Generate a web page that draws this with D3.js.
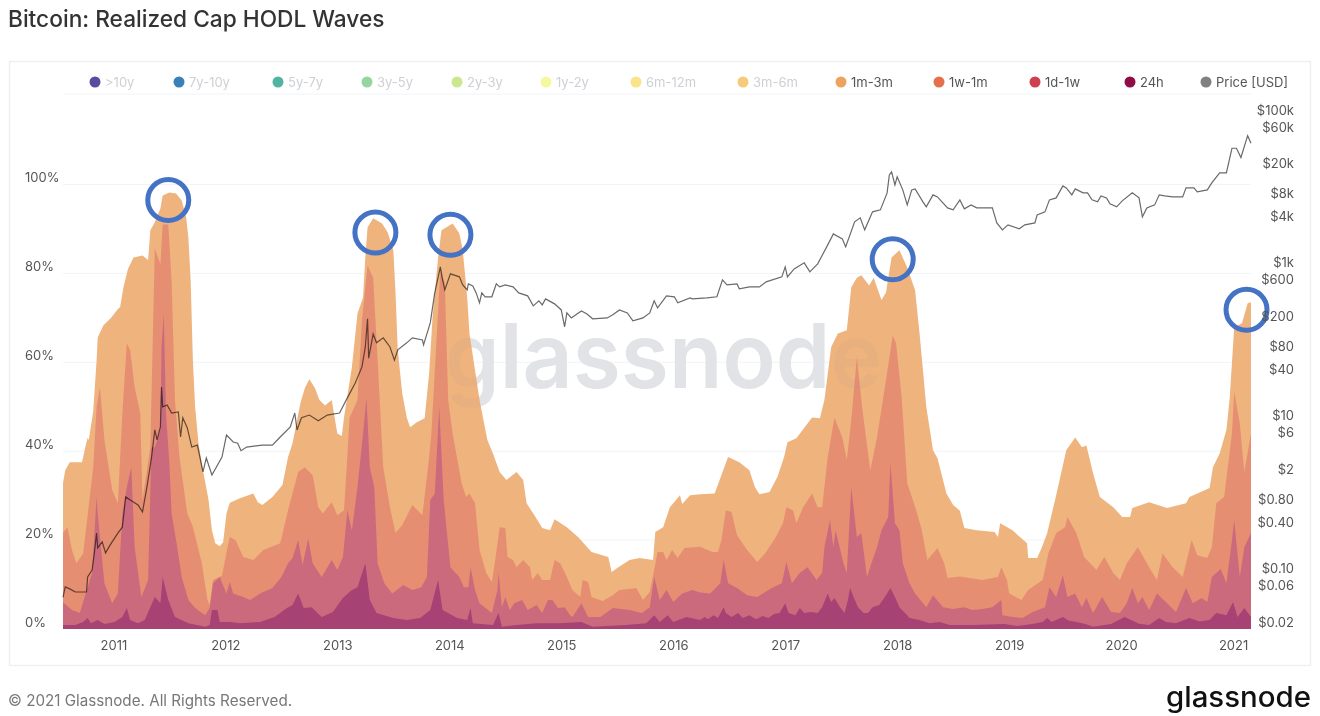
<!DOCTYPE html>
<html><head><meta charset="utf-8">
<script src="https://cdn.jsdelivr.net/npm/d3@7"></script>
<style>
html,body{margin:0;padding:0;background:#fff;overflow:hidden}
svg{display:block;font-family:Inter,"Noto Sans",sans-serif}
</style></head><body><svg id="c" width="1320" height="716"></svg>
<script>
const title = "Bitcoin: Realized Cap HODL Waves";
const footer = "© 2021 Glassnode. All Rights Reserved.";
const brand = "glassnode";
const legendNames = [">10y","7y-10y","5y-7y","3y-5y","2y-3y","1y-2y","6m-12m","3m-6m","1m-3m","1w-1m","1d-1w","24h","Price [USD]"];
const legendColors = ["#5b4a9f","#3a80b9","#52b3a3","#97d5a0","#cbe88f","#f6f8a0","#fbe389","#f7c97b","#eda35e","#e4704d","#ce3f4f","#8f0c47","#808080"];
const legendActive = ["1m-3m","1w-1m","1d-1w","24h","Price [USD]"];
const yearTicks = [2011,2012,2013,2014,2015,2016,2017,2018,2019,2020,2021];
const pctTicks = [0,20,40,60,80,100];
const priceTicks = [0.02,0.06,0.1,0.4,0.8,2,6,10,40,80,200,600,1000,4000,8000,20000,60000,100000];
const priceLabels = ["$0.02","$0.06","$0.10","$0.40","$0.80","$2","$6","$10","$40","$80","$200","$600","$1k","$4k","$8k","$20k","$60k","$100k"];
const highlightDates = [2011.49,2013.34,2014.01,2017.96,2021.12];
const highlightLevels = [96.5,89.2,88.7,83.2,71.8];

// cumulative share of realized cap, [decimal year, %]
const upTo1m3m = [[2010.55,32.8],[2010.57,35.7],[2010.61,37.5],[2010.72,37.5],[2010.75,41],[2010.77,43],[2010.78,42.5],[2010.82,49],[2010.85,60.4],[2010.86,65.6],[2010.91,68.3],[2010.98,70],[2011.04,72],[2011.06,72.4],[2011.09,76.9],[2011.13,81],[2011.18,83.6],[2011.26,84],[2011.31,83],[2011.33,89.7],[2011.37,91.5],[2011.42,94.6],[2011.44,97.5],[2011.50,98.2],[2011.56,98],[2011.61,96.4],[2011.65,92.6],[2011.67,88],[2011.69,78.4],[2011.71,60.4],[2011.73,50],[2011.76,41.8],[2011.80,35.7],[2011.85,29],[2011.88,22.2],[2011.91,19.3],[2011.95,18.6],[2011.98,19.5],[2012.01,26],[2012.04,28.4],[2012.13,29.4],[2012.25,30.5],[2012.29,28.5],[2012.33,27.9],[2012.42,29.7],[2012.51,32.4],[2012.56,38.7],[2012.60,41.8],[2012.67,50.8],[2012.71,54.2],[2012.75,56.2],[2012.80,54.2],[2012.84,51.5],[2012.89,50.3],[2012.95,51.5],[2012.97,48.5],[2013.00,44],[2013.04,43.4],[2013.06,47.6],[2013.13,58.9],[2013.18,71],[2013.23,74.6],[2013.25,83.6],[2013.27,90.3],[2013.32,92.4],[2013.40,91.2],[2013.45,89.2],[2013.50,85.2],[2013.52,75.5],[2013.54,62.7],[2013.58,53],[2013.62,47.6],[2013.65,45.4],[2013.71,46.5],[2013.78,47.4],[2013.82,57.5],[2013.85,70],[2013.90,83.6],[2013.93,89.7],[2014.03,91.2],[2014.09,89],[2014.12,85.2],[2014.16,74.6],[2014.18,66.5],[2014.27,51.5],[2014.34,42.5],[2014.39,39.5],[2014.45,35.3],[2014.51,33.5],[2014.60,35.3],[2014.66,33.5],[2014.69,28.3],[2014.76,25.6],[2014.83,22.7],[2014.90,22.2],[2014.94,24.7],[2015.05,22.9],[2015.15,20.7],[2015.27,17.3],[2015.42,16.2],[2015.45,12.8],[2015.50,13.7],[2015.61,15.5],[2015.70,16],[2015.82,15.5],[2015.84,21.8],[2015.91,22.9],[2015.97,27.4],[2016.06,30.1],[2016.08,28.1],[2016.15,30.1],[2016.24,30.3],[2016.37,30.5],[2016.43,34.6],[2016.49,38.7],[2016.59,37.5],[2016.68,35.7],[2016.73,31.9],[2016.77,30.3],[2016.86,30.8],[2016.93,34.2],[2016.99,38.7],[2017.02,42],[2017.10,42.9],[2017.24,47.6],[2017.31,47.4],[2017.35,51.5],[2017.41,63.4],[2017.47,66.5],[2017.55,67.2],[2017.59,76.9],[2017.64,79],[2017.68,79.6],[2017.75,77.3],[2017.79,79],[2017.86,74],[2017.90,75.7],[2017.95,83.6],[2018.02,85.2],[2018.09,81.3],[2018.16,76.2],[2018.20,66.5],[2018.26,50],[2018.32,40.2],[2018.36,38.4],[2018.44,30.5],[2018.50,27.9],[2018.56,26.6],[2018.60,22.7],[2018.71,22.2],[2018.87,21.8],[2018.90,20.7],[2018.92,23.8],[2019.03,22.2],[2019.16,19.3],[2019.17,16],[2019.25,16],[2019.29,18.2],[2019.34,21.6],[2019.42,30.1],[2019.51,40.2],[2019.59,43.1],[2019.65,40.9],[2019.69,41.3],[2019.75,35],[2019.81,29.7],[2019.93,27.4],[2020.01,25.2],[2020.08,25.2],[2020.10,27.2],[2020.25,28.5],[2020.41,27.2],[2020.58,28.3],[2020.61,29.7],[2020.79,31.7],[2020.82,36.4],[2020.88,39.5],[2020.94,44.7],[2020.97,52],[2021.01,67.9],[2021.08,68.8],[2021.13,73.3],[2021.16,73.5]];
const upTo1w1m = [[2010.55,21.6],[2010.59,22.9],[2010.63,17.8],[2010.67,14.8],[2010.73,17],[2010.82,36.4],[2010.85,50],[2010.88,54.4],[2010.92,42.5],[2010.99,31.2],[2011.04,28.3],[2011.08,48.5],[2011.12,64.3],[2011.15,62.7],[2011.19,54.4],[2011.24,48.5],[2011.26,29],[2011.33,40.9],[2011.37,85.6],[2011.42,82],[2011.44,91],[2011.49,91],[2011.52,78.4],[2011.55,51.5],[2011.59,38.7],[2011.66,26],[2011.71,23],[2011.79,14.8],[2011.84,6.5],[2011.86,5.4],[2011.89,11],[2011.97,12],[2012.02,18.4],[2012.04,20.7],[2012.09,20],[2012.16,16.2],[2012.25,15.5],[2012.34,17.8],[2012.49,19.3],[2012.56,26.7],[2012.65,35.3],[2012.71,36.4],[2012.78,34.6],[2012.83,27.4],[2012.87,26],[2012.95,28.5],[2013.00,25.6],[2013.06,26.7],[2013.11,47.6],[2013.18,51.5],[2013.22,69.4],[2013.27,81.8],[2013.32,79],[2013.36,60.4],[2013.41,36.4],[2013.47,27.4],[2013.52,21.6],[2013.58,23.4],[2013.67,27.9],[2013.76,25.6],[2013.82,38.7],[2013.84,44],[2013.92,80.7],[2013.96,77.8],[2013.99,51.5],[2014.03,44],[2014.11,32.8],[2014.15,29.7],[2014.18,30.5],[2014.23,28.3],[2014.27,17.8],[2014.33,12.6],[2014.38,10.6],[2014.41,15.5],[2014.45,22.9],[2014.50,22.7],[2014.52,16.2],[2014.57,15.5],[2014.60,13.9],[2014.66,15.5],[2014.72,13.9],[2014.74,11],[2014.79,12.6],[2014.83,11],[2014.90,11],[2014.94,15.5],[2014.99,14.8],[2015.05,11.7],[2015.10,8.8],[2015.17,7.2],[2015.19,11],[2015.24,10.6],[2015.27,7.2],[2015.37,6.3],[2015.46,7.6],[2015.52,8.8],[2015.67,9.2],[2015.73,6.5],[2015.79,8.3],[2015.83,13.3],[2015.86,17.3],[2015.91,17.3],[2015.94,15.5],[2015.99,17.8],[2016.04,16],[2016.10,18.2],[2016.18,18.4],[2016.24,18.5],[2016.35,17.3],[2016.40,17.3],[2016.43,20],[2016.47,26.7],[2016.52,26.3],[2016.57,21.1],[2016.66,17.8],[2016.75,15.1],[2016.82,17],[2016.91,20.4],[2016.98,23.8],[2017.01,27.4],[2017.07,26.7],[2017.10,23.8],[2017.16,27.4],[2017.24,30.5],[2017.29,27.4],[2017.33,27.4],[2017.38,38.7],[2017.44,47.6],[2017.51,43.1],[2017.55,38],[2017.59,47],[2017.64,61.1],[2017.69,49.2],[2017.76,35.7],[2017.82,43.1],[2017.90,56],[2017.96,66],[2017.99,64.3],[2018.04,52.1],[2018.09,32.8],[2018.17,26.7],[2018.22,22.2],[2018.27,15.5],[2018.36,18.2],[2018.42,14.8],[2018.45,11.5],[2018.56,11.8],[2018.76,11],[2018.90,11.7],[2018.93,13.9],[2018.98,11],[2019.00,8],[2019.11,6.5],[2019.17,8.8],[2019.30,11],[2019.35,17],[2019.42,21.6],[2019.50,22.9],[2019.52,25.2],[2019.60,21.6],[2019.67,16.2],[2019.78,13.3],[2019.85,16.2],[2019.93,12.6],[2019.99,11],[2020.05,14.8],[2020.15,18.4],[2020.25,13.9],[2020.32,11],[2020.37,17],[2020.46,13.9],[2020.55,11.7],[2020.63,20],[2020.68,16.6],[2020.77,16],[2020.81,18.4],[2020.85,28.3],[2020.92,29.7],[2020.99,44],[2021.01,53.3],[2021.06,46.3],[2021.10,35.3],[2021.16,44]];
const upTo1d1w = [[2010.55,6],[2010.63,4.3],[2010.70,3.6],[2010.77,9.4],[2010.81,12.6],[2010.85,29.7],[2010.86,26],[2010.92,10.3],[2010.99,5.8],[2011.04,8],[2011.08,26],[2011.12,31.9],[2011.16,36.4],[2011.19,18.4],[2011.25,7.2],[2011.31,11],[2011.34,40.9],[2011.37,40.9],[2011.42,44.7],[2011.43,63.4],[2011.45,71],[2011.47,48.5],[2011.50,37.3],[2011.52,26],[2011.57,18.4],[2011.61,11.7],[2011.67,6.5],[2011.73,4.7],[2011.82,3.1],[2011.86,4.7],[2011.89,10.3],[2011.95,11.7],[2012.01,8],[2012.04,10.6],[2012.07,8],[2012.16,7.2],[2012.22,6.5],[2012.31,8],[2012.42,9.2],[2012.50,11.7],[2012.56,14.8],[2012.60,16],[2012.65,20],[2012.69,14.4],[2012.74,20.4],[2012.78,14.8],[2012.86,11.7],[2012.95,15.5],[2013.00,13.3],[2013.05,16.2],[2013.09,26.7],[2013.13,22.2],[2013.18,31.9],[2013.23,44],[2013.26,52.1],[2013.29,36.4],[2013.33,31.9],[2013.36,14.8],[2013.42,10.3],[2013.49,8],[2013.59,9.9],[2013.67,8.8],[2013.75,9.4],[2013.80,11.7],[2013.83,29],[2013.87,30.5],[2013.91,49.9],[2013.95,29],[2014.01,13.9],[2014.09,11.7],[2014.13,9.4],[2014.17,9.4],[2014.19,13.9],[2014.23,8.8],[2014.27,5.8],[2014.38,3.6],[2014.43,8.8],[2014.44,12.6],[2014.47,4.9],[2014.50,7.2],[2014.54,4.3],[2014.58,5.8],[2014.65,6.5],[2014.70,4.3],[2014.78,5.4],[2014.83,3.6],[2014.88,6.5],[2014.92,6.5],[2014.97,4.7],[2015.03,4.9],[2015.08,3.1],[2015.10,2.7],[2015.18,5.8],[2015.24,2.7],[2015.35,2.7],[2015.46,4.7],[2015.61,4.3],[2015.72,3.6],[2015.79,4.9],[2015.83,11.7],[2015.88,6.5],[2015.94,8.8],[2016.00,6.1],[2016.08,8],[2016.17,8.8],[2016.24,8.2],[2016.33,8],[2016.42,10.3],[2016.45,15.5],[2016.49,10.3],[2016.57,9.2],[2016.66,7.6],[2016.75,7.2],[2016.88,9.2],[2016.97,10.3],[2017.01,15.1],[2017.06,10.3],[2017.13,12.6],[2017.20,13.9],[2017.28,11],[2017.33,12.6],[2017.35,18.4],[2017.40,24.5],[2017.43,18.4],[2017.45,22.2],[2017.52,14.8],[2017.55,12.6],[2017.59,31.9],[2017.64,20.7],[2017.68,21.6],[2017.73,11.7],[2017.77,14.8],[2017.82,18.4],[2017.86,22.2],[2017.92,25.2],[2017.94,37.3],[2017.98,23.8],[2018.02,22.2],[2018.05,14.8],[2018.11,10.3],[2018.16,8],[2018.26,4.9],[2018.32,7.6],[2018.41,4.9],[2018.50,4.5],[2018.60,4.9],[2018.67,4.3],[2018.76,4.5],[2018.85,4.9],[2018.93,6.5],[2018.94,3.1],[2019.03,2.7],[2019.12,2.5],[2019.21,3.8],[2019.32,4.9],[2019.36,9.4],[2019.42,7.2],[2019.48,12.1],[2019.52,7.2],[2019.59,8],[2019.65,4.9],[2019.69,7],[2019.75,3.6],[2019.83,7.2],[2019.91,3.8],[2019.99,3.6],[2020.05,5.8],[2020.10,9.2],[2020.15,5.8],[2020.19,7.2],[2020.25,4.3],[2020.32,8],[2020.41,5.8],[2020.49,3.8],[2020.58,9.2],[2020.64,5.8],[2020.72,7],[2020.77,6.1],[2020.81,11.7],[2020.85,12.6],[2020.89,13.5],[2020.94,10.3],[2020.99,20],[2021.01,24.5],[2021.06,11.7],[2021.10,18.4],[2021.16,21.6]];
const upTo24h = [[2010.55,0.9],[2010.66,0.9],[2010.73,1.6],[2010.77,2.5],[2010.80,1.3],[2010.86,2],[2010.92,1.1],[2011.01,1.6],[2011.08,2.7],[2011.12,4.7],[2011.15,2],[2011.22,1.3],[2011.28,2],[2011.33,4.9],[2011.37,7.2],[2011.42,5.8],[2011.44,11.7],[2011.49,6.5],[2011.55,2.7],[2011.67,1.3],[2011.82,0.5],[2011.86,0.9],[2011.88,4.3],[2011.93,4.3],[2011.95,1.6],[2012.04,1.6],[2012.13,1.3],[2012.31,1.6],[2012.44,2.7],[2012.55,4.7],[2012.60,5.4],[2012.65,8],[2012.70,4.7],[2012.77,4.9],[2012.86,2.7],[2012.96,3.8],[2013.05,7],[2013.13,8.8],[2013.18,9.4],[2013.25,14.8],[2013.29,6.5],[2013.35,3.6],[2013.50,2.5],[2013.62,2],[2013.74,2.5],[2013.83,4.3],[2013.90,11],[2013.94,4.3],[2014.07,2.5],[2014.16,2],[2014.19,4.7],[2014.21,1.3],[2014.39,0.9],[2014.44,3.6],[2014.47,0.5],[2014.60,0.9],[2014.78,1.3],[2014.99,1.3],[2015.18,1.6],[2015.28,0.5],[2015.58,0.9],[2015.76,1.3],[2015.83,3.1],[2015.88,1.6],[2015.95,3.1],[2016.00,1.6],[2016.12,2.7],[2016.24,2],[2016.28,2.7],[2016.31,2.2],[2016.36,3.1],[2016.40,2.5],[2016.45,4.9],[2016.47,3.6],[2016.52,2.7],[2016.58,3.6],[2016.62,2.5],[2016.68,3.1],[2016.74,2.2],[2016.80,2.9],[2016.85,2.5],[2016.90,3.4],[2016.95,3.6],[2017.00,5.8],[2017.03,3.6],[2017.09,3.1],[2017.13,4.7],[2017.17,3.6],[2017.23,3.8],[2017.29,3.6],[2017.33,4.9],[2017.38,8],[2017.41,6],[2017.44,7],[2017.49,4.9],[2017.53,3.6],[2017.56,6.5],[2017.58,9.2],[2017.61,7.2],[2017.65,4.9],[2017.70,3.6],[2017.74,3.6],[2017.78,4.9],[2017.84,5.4],[2017.89,7.2],[2017.94,9.2],[2017.98,7.2],[2018.02,4.9],[2018.07,3.6],[2018.11,2.5],[2018.20,2],[2018.29,1.3],[2018.38,1.6],[2018.47,0.9],[2018.56,0.9],[2018.67,0.9],[2018.96,1.1],[2019.07,0.7],[2019.21,1.1],[2019.30,1.6],[2019.34,2.5],[2019.38,1.6],[2019.42,2],[2019.48,2.7],[2019.53,1.9],[2019.60,1.6],[2019.68,1.1],[2019.75,0.5],[2019.91,1.1],[2020.03,2.7],[2020.09,2],[2020.16,1.2],[2020.25,0.9],[2020.34,2.5],[2020.40,1.6],[2020.49,1.3],[2020.61,2.5],[2020.70,1.7],[2020.79,2],[2020.85,3.6],[2020.94,3.1],[2021.00,6.1],[2021.04,2.7],[2021.10,4.7],[2021.16,2.7]];
const priceUsd = [[2010.55,0.052],[2010.57,0.071],[2010.61,0.067],[2010.66,0.061],[2010.76,0.061],[2010.77,0.096],[2010.81,0.118],[2010.83,0.198],[2010.85,0.36],[2010.86,0.23],[2010.90,0.276],[2010.93,0.198],[2010.97,0.25],[2011.04,0.36],[2011.08,0.43],[2011.11,1.07],[2011.15,0.975],[2011.22,0.84],[2011.26,0.68],[2011.30,1.45],[2011.34,3.46],[2011.37,8.05],[2011.39,5.96],[2011.42,8.8],[2011.43,29.4],[2011.44,16.1],[2011.48,17.1],[2011.52,13.4],[2011.58,13.8],[2011.60,6.5],[2011.62,11.6],[2011.66,8.55],[2011.70,4.8],[2011.75,5.1],[2011.80,2.27],[2011.83,3.46],[2011.88,2.07],[2011.97,3.56],[2012.01,6.9],[2012.07,5.6],[2012.11,5.4],[2012.14,4.3],[2012.19,4.8],[2012.33,5.1],[2012.42,5.1],[2012.49,6.5],[2012.58,8.8],[2012.62,13.4],[2012.64,8.05],[2012.68,11.6],[2012.75,12.6],[2012.83,10.6],[2012.91,12.6],[2013.02,13.4],[2013.08,19.9],[2013.16,33],[2013.22,53.7],[2013.25,98],[2013.27,229],[2013.28,70],[2013.32,145],[2013.35,111],[2013.41,129],[2013.47,98],[2013.51,66],[2013.54,90],[2013.62,111],[2013.67,129],[2013.76,121],[2013.77,104],[2013.83,202],[2013.87,500],[2013.92,1094],[2013.94,740],[2013.96,547],[2014.01,887],[2014.09,810],[2014.12,636],[2014.16,547],[2014.17,655],[2014.21,617],[2014.24,500],[2014.27,370],[2014.29,500],[2014.32,444],[2014.38,444],[2014.42,655],[2014.45,599],[2014.50,636],[2014.57,599],[2014.62,500],[2014.70,457],[2014.75,338],[2014.80,393],[2014.83,348],[2014.86,417],[2014.94,359],[2015.00,299],[2015.03,180],[2015.05,273],[2015.09,235],[2015.14,265],[2015.18,290],[2015.23,265],[2015.28,229],[2015.41,235],[2015.46,258],[2015.52,299],[2015.59,273],[2015.64,215],[2015.73,235],[2015.79,273],[2015.83,393],[2015.86,318],[2015.94,457],[2016.01,444],[2016.04,370],[2016.15,430],[2016.17,417],[2016.30,430],[2016.39,444],[2016.44,740],[2016.48,636],[2016.57,655],[2016.59,564],[2016.68,599],[2016.77,599],[2016.83,696],[2016.97,810],[2017.00,1094],[2017.02,810],[2017.08,1030],[2017.17,1235],[2017.22,942],[2017.29,1198],[2017.38,2124],[2017.43,2958],[2017.51,2545],[2017.54,2000],[2017.62,4246],[2017.67,4790],[2017.71,3337],[2017.78,5738],[2017.85,6094],[2017.91,10167],[2017.93,17482],[2017.95,19135],[2017.98,12937],[2018.00,16461],[2018.05,11129],[2018.09,7084],[2018.13,11129],[2018.16,11469],[2018.23,7754],[2018.26,6670],[2018.32,9573],[2018.36,9014],[2018.45,6472],[2018.50,6094],[2018.56,8235],[2018.60,6280],[2018.66,7084],[2018.71,6472],[2018.85,6472],[2018.89,4120],[2018.94,3337],[2018.99,3879],[2019.09,3439],[2019.14,3879],[2019.23,4120],[2019.25,5242],[2019.32,5738],[2019.36,8235],[2019.42,8746],[2019.48,12554],[2019.51,11820],[2019.56,9573],[2019.59,11469],[2019.66,10167],[2019.70,10167],[2019.74,8235],[2019.79,7754],[2019.82,9289],[2019.87,8746],[2019.90,7301],[2019.96,6670],[2020.01,7991],[2020.10,10167],[2020.16,8746],[2020.19,4936],[2020.23,6472],[2020.30,7084],[2020.34,9573],[2020.39,9289],[2020.46,9014],[2020.55,9014],[2020.58,11820],[2020.65,11820],[2020.68,10478],[2020.77,11129],[2020.81,13740],[2020.88,18567],[2020.94,18567],[2020.99,39000],[2021.03,39000],[2021.07,29500],[2021.13,57000],[2021.16,45500]];

const layers = [
  {data:upTo1m3m,color:"#efb37e"},
  {data:upTo1w1m,color:"#e68e72"},
  {data:upTo1d1w,color:"#cc6a7d"},
  {data:upTo24h,color:"#a64274"}
];
const svg = d3.select("#c");
const M = {l:63,r:1251,t:117,b:629};
const x = d3.scaleLinear().domain([2010.55,2021.16]).range([M.l,M.r]);
const y = d3.scaleLinear().domain([0,100]).range([M.b,184.5]);
const p = d3.scaleLog().domain([0.02,100000]).range([M.b,M.t]);

svg.append("text").attr("x",8).attr("y",26.5).attr("font-size",22.7).attr("font-weight",500).attr("fill","#333").text(title);
svg.append("rect").attr("x",9.5).attr("y",61.5).attr("width",1301).attr("height",604).attr("fill","#fff").attr("stroke","#eff0f2").attr("stroke-width",1.6);

// grid
svg.append("line").attr("x1",M.l).attr("x2",M.r).attr("y1",94).attr("y2",94).attr("stroke","#f3f4f6");
svg.append("g").selectAll("line").data(pctTicks.slice(1)).join("line")
  .attr("x1",M.l).attr("x2",M.r).attr("y1",d=>y(d)).attr("y2",d=>y(d)).attr("stroke","#f2f3f5");

// legend
const legendX = [95,179,278,367,457,546,636,743,841,939,1035,1130,1206];
const lg = svg.append("g").selectAll("g").data(legendNames).join("g").attr("transform",(d,i)=>`translate(${legendX[i]},82)`);
lg.append("circle").attr("r",5.5).attr("fill",(d,i)=>legendColors[i]);
lg.append("text").attr("x",10).attr("y",4.7).attr("font-size",13).attr("fill",d=>legendActive.includes(d)?"#555":"#cdd0d4").text(d=>d);

// watermark beneath the bands
const mark = sel => sel.attr("x",445).attr("y",388).attr("font-size",90).attr("font-weight",600)
  .attr("textLength",437).attr("lengthAdjust","spacingAndGlyphs").text(brand);
svg.append("text").call(mark).attr("fill","#e7e8ea");

// stacked bands
const area = d3.area().x(d=>x(d[0])).y0(M.b).y1(d=>y(d[1])).curve(d3.curveLinear);
svg.append("g").selectAll("path").data(layers).join("path").attr("d",d=>area(d.data)).attr("fill",d=>d.color);

// watermark faintly showing through the bands
svg.append("text").call(mark).attr("fill","#868c9c").attr("fill-opacity",0.05);

// price
svg.append("path").attr("d",d3.line().x(d=>x(d[0])).y(d=>p(d[1]))(priceUsd))
  .attr("fill","none").attr("stroke","#6a6a6a").attr("stroke-width",1.2).style("mix-blend-mode","multiply");

// highlight rings
svg.append("g").selectAll("circle").data(highlightDates).join("circle")
  .attr("cx",d=>x(d)).attr("cy",(d,i)=>y(highlightLevels[i])).attr("r",20.5)
  .attr("fill","none").attr("stroke","#4472c4").attr("stroke-width",5);

// axes
const gx = svg.append("g").attr("transform",`translate(0,${M.b})`)
  .call(d3.axisBottom(x).tickValues(yearTicks).tickFormat(d3.format("d")).tickSize(0).tickPadding(12));
const gl = svg.append("g").attr("transform",`translate(${M.l},0)`)
  .call(d3.axisLeft(y).tickValues(pctTicks).tickFormat(d=>d+"%").tickSize(0));
const gr = svg.append("g").attr("transform",`translate(1294,0)`)
  .call(d3.axisLeft(p).tickValues(priceTicks).tickFormat((d,i)=>priceLabels[i]).tickSize(0).tickPadding(0));
[gx,gl,gr].forEach(g=>{g.select(".domain").remove();g.selectAll("text").attr("font-size",13).attr("font-family","Inter").attr("fill","#555");});
gl.selectAll("text").attr("text-anchor","start").attr("x",25-M.l).attr("dy","-0.22em");
gr.selectAll("text").attr("text-anchor","end").attr("x",0).attr("dy","-0.22em");

svg.append("text").attr("x",8).attr("y",706).attr("font-size",15.2).attr("fill","#777").text(footer);
svg.append("text").attr("x",1166).attr("y",707).attr("font-size",28).attr("font-weight",500).attr("fill","#111")
  .attr("textLength",145).attr("lengthAdjust","spacingAndGlyphs").text(brand);
</script></body></html>
